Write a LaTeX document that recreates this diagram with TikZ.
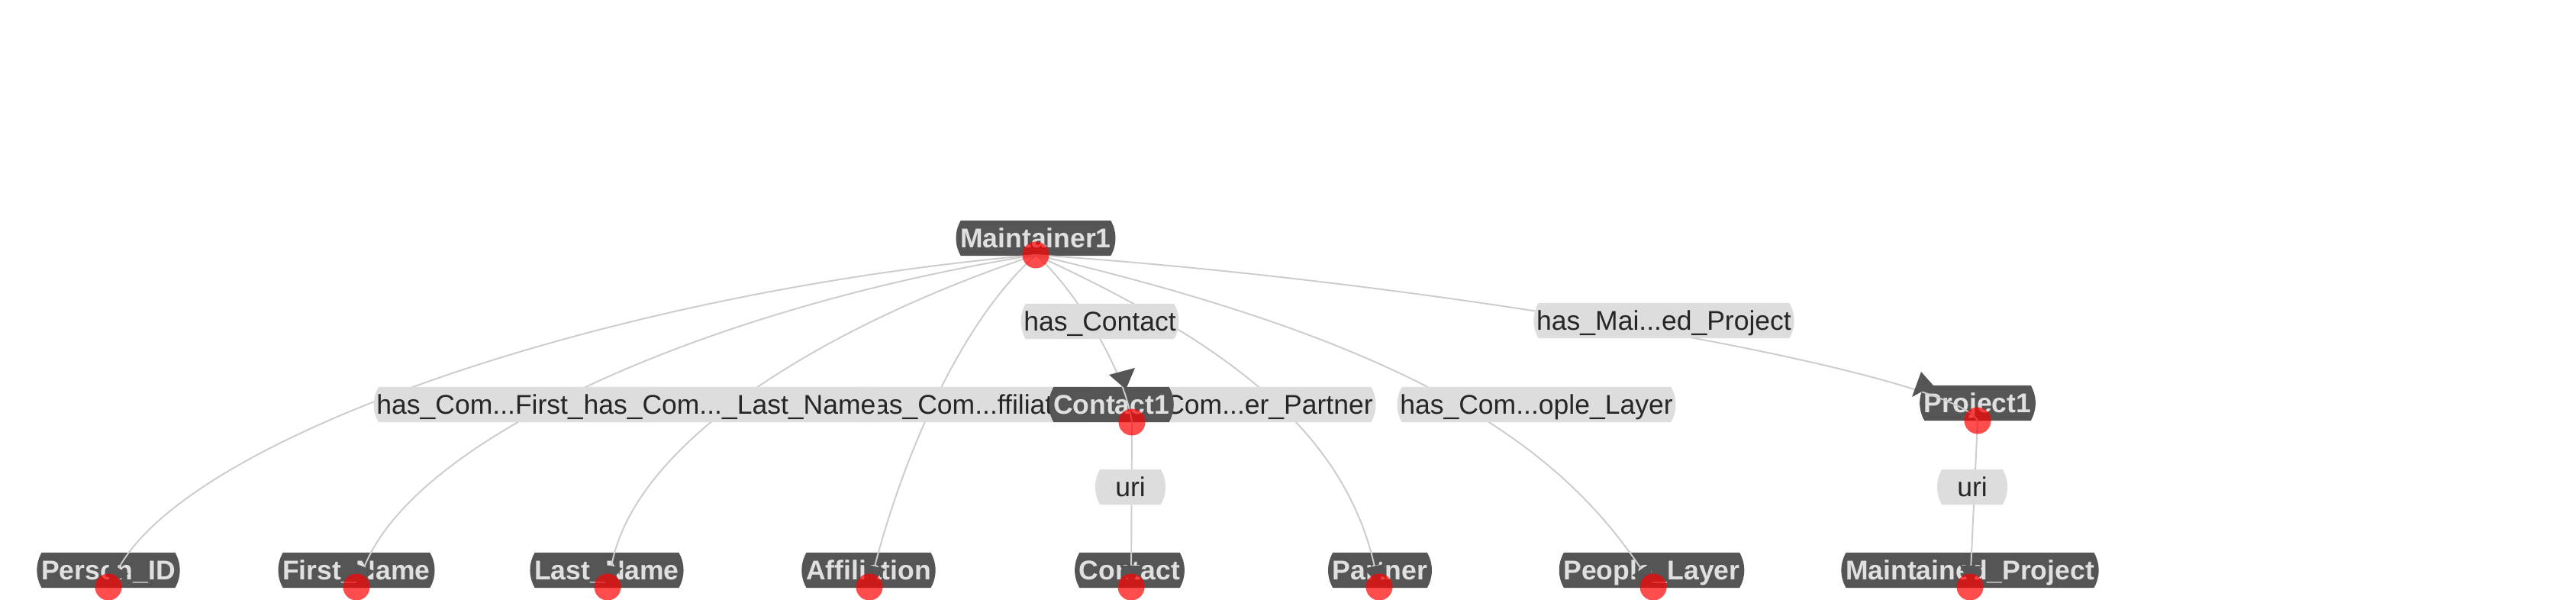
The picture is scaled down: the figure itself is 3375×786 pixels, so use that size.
\documentclass[tikz,border=0pt]{standalone}
\usepackage{fontspec}
\setmainfont{Liberation Sans}
\usetikzlibrary{shapes.misc,arrows.meta}
\definecolor{nodefill}{HTML}{555555}
\definecolor{nodetext}{HTML}{E0E0E0}
\definecolor{labfill}{HTML}{DDDDDD}
\definecolor{labtext}{HTML}{262626}
\definecolor{edgecol}{HTML}{CCCCCC}
\begin{document}
\begin{tikzpicture}[x=0.01cm,y=-0.01cm,
 ent/.style={rounded rectangle, rounded rectangle arc length=60, fill=nodefill, text=nodetext,
   font=\fontsize{10.1}{12}\selectfont\bfseries, minimum height=0.46cm, inner ysep=0pt,
   inner xsep=0.04cm, text height=7.2pt, text depth=0pt},
 lab/.style={rounded rectangle, rounded rectangle arc length=60, fill=labfill, text=labtext,
   font=\fontsize{10.1}{12}\selectfont, minimum height=0.46cm, inner ysep=0pt,
   inner xsep=0.02cm, text height=7.2pt, text depth=0pt},
 reddot/.style={circle, fill=red, fill opacity=0.7, minimum size=0.35cm, inner sep=0pt},
 conn/.style={draw=edgecol, line width=0.55pt},
 endtip/.style={-{Triangle[length=0.25cm,width=0.29cm,color=nodefill]}, shorten >=0.03cm},
 arrowhd/.style={fill=nodefill}
]
\useasboundingbox (0,0) rectangle (3375,786);

% anchor points of the nodes (red dots)
\coordinate (pM) at (1357,334);
\coordinate (pC1) at (1483,553);
\coordinate (pP1) at (2591,551);
\coordinate (pPerson) at (142,769);
\coordinate (pFirst) at (467,769);
\coordinate (pLast) at (796,769);
\coordinate (pAff) at (1139,769);
\coordinate (pContact) at (1482,769);
\coordinate (pPartner) at (1807,769);
\coordinate (pPeople) at (2166,769);
\coordinate (pMP) at (2581,769);

% entity boxes
\node[ent] (Maintainer1) at (1357,312) {Maintainer1};
\node[ent] (Project1) at (2591,528) {Project1};
\node[ent] (PersonID) at (142,747) {Person\_ID};
\node[ent] (FirstName) at (467,747) {First\_Name};
\node[ent] (LastName) at (795,747) {Last\_Name};
\node[ent] (Affiliation) at (1138,747) {Affiliation};
\node[ent] (Contact) at (1480,747) {Contact};
\node[ent] (Partner) at (1808,747) {Partner};
\node[ent] (PeopleLayer) at (2164,747) {People\_Layer};
\node[ent] (MaintainedProject) at (2581,747) {Maintained\_Project};

% connectors
\draw[conn,endtip] (pM) .. controls (807,382) and (252,568) .. (pPerson);
\draw[conn,endtip] (pM) .. controls (937,401) and (545,570) .. (pFirst);
\draw[conn,endtip] (pM) .. controls (1107,417) and (833,568) .. (pLast);
\draw[conn,endtip] (pM) .. controls (1250,430) and (1178,618) .. (pAff);
\draw[conn] (pM) .. controls (1395,365) and (1470,470) .. (pC1);
\draw[conn,endtip] (pM) .. controls (1600,446) and (1760,560) .. (pPartner);
\draw[conn,endtip] (pM) .. controls (1850,450) and (2040,580) .. (pPeople);
\draw[conn] (pM) .. controls (1900,370) and (2560,490) .. (pP1);
\draw[conn,endtip] (pC1) -- (pContact);
\draw[conn,endtip] (pP1) -- (pMP);
\fill[arrowhd] (2517,487) -- (2533,505) -- (2505,520) -- cycle;

% connector labels
\node[lab] (lFirst) at (676,530) {has\_Com...First\_Name};
\node[lab] (lAff) at (1276,530) {has\_Com...ffiliation};
\node[lab] (lLast) at (956,530) {has\_Com...\_Last\_Name};
\node[lab] (lPartner) at (1624,530) {has\_Com...er\_Partner};
\node[lab] (lPeople) at (2013,530) {has\_Com...ople\_Layer};
\node[lab] (lContact) at (1441,421) {has\_Contact};
\node[lab] (lProject) at (2180,420) {has\_Mai...ed\_Project};
\node[lab] (lUri1) at (1481,638) {uri};
\node[lab] (lUri2) at (2584,638) {uri};

% Contact1 box lies over the labels
\node[ent] (Contact1) at (1456,530) {Contact1};
\begin{scope}
  \clip (Contact1.west |- Contact1.north) rectangle (Contact1.east |- Contact1.south);
  \draw[conn] (pM) .. controls (1395,365) and (1470,470) .. (pC1);
\end{scope}
\fill[arrowhd] (1453,491) -- (1487,482) -- (1475,510) -- cycle;

% red dots
\node[reddot] (dM) at (pM) {};
\node[reddot] (dC1) at (pC1) {};
\node[reddot] (dP1) at (pP1) {};
\node[reddot] (dPerson) at (pPerson) {};
\node[reddot] (dFirst) at (pFirst) {};
\node[reddot] (dLast) at (pLast) {};
\node[reddot] (dAff) at (pAff) {};
\node[reddot] (dContact) at (pContact) {};
\node[reddot] (dPartner) at (pPartner) {};
\node[reddot] (dPeople) at (pPeople) {};
\node[reddot] (dMP) at (pMP) {};
\end{tikzpicture}
\end{document}
